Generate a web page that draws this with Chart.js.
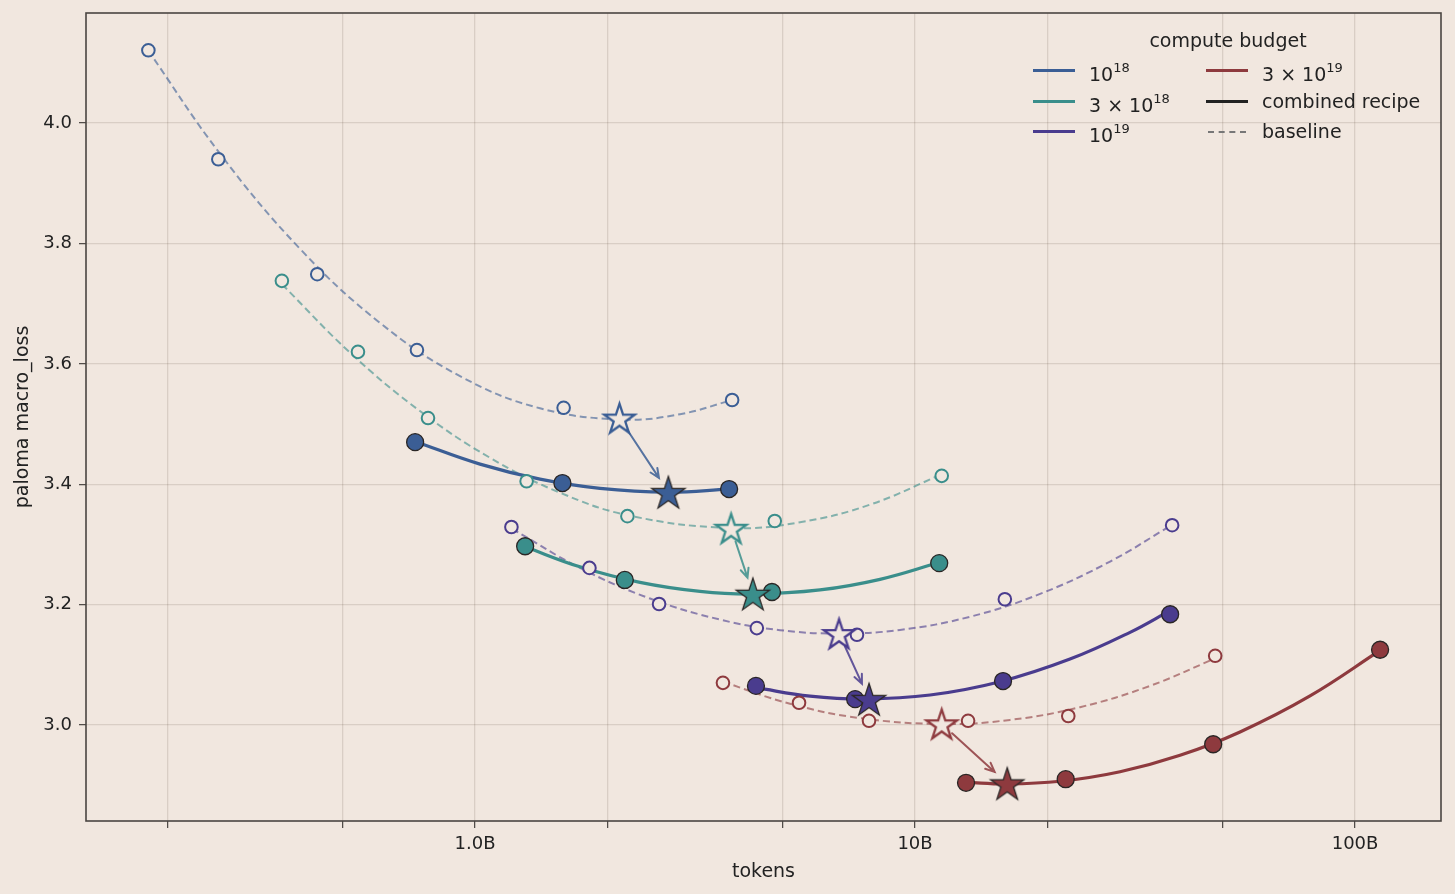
<!DOCTYPE html>
<html>
<head>
<meta charset="utf-8">
<script src="https://cdn.jsdelivr.net/npm/chart.js@4.4.1/dist/chart.umd.min.js"></script>
<style>
  html, body { margin: 0; padding: 0; background: #f1e7df; }
  #wrap { position: relative; width: 1455px; height: 894px; font-family: 'DejaVu Sans', sans-serif; color: #222; }
  #legend { position: absolute; left: 1026px; top: 26px; width: 410px; font-size: 19px; }
  #legend .ttl { position: absolute; left: 0; width: 404px; text-align: center; top: 2px; line-height: 24px; }
  #legend .row { position: absolute; height: 24px; line-height: 24px; white-space: nowrap; }
  #legend .hd { position: absolute; left: 0; top: 11px; width: 42px; height: 0; border-top: 3px solid; }
  #legend .lb { position: absolute; left: 56px; top: 0; }
  #legend sup { font-size: 13px; position: relative; top: -2px; }
</style>
</head>
<body>
<div id="wrap">
  <canvas id="lossChart" width="1455" height="894"></canvas>
  <div id="legend"></div>
</div>
<script>
// ───────────────────────────────────────────────
// tokens (billions) vs paloma macro_loss, per compute budget
// ───────────────────────────────────────────────

const budgets = ['1e18', '3e18', '1e19', '3e19'];
const budgetLabels = ['10<sup>18</sup>', '3 × 10<sup>18</sup>', '10<sup>19</sup>', '3 × 10<sup>19</sup>'];
const budgetColors = ['#3b5e95', '#3a8e8b', '#4a3c8e', '#8e3a3e'];

// baseline runs (hollow circles)
const baseTokens1e18 = [0.181, 0.261, 0.438, 0.738, 1.59, 3.84];
const baseLoss1e18   = [4.121, 3.940, 3.749, 3.623, 3.527, 3.540];
const baseTokens3e18 = [0.364, 0.542, 0.782, 1.31, 2.22, 4.80, 11.5];
const baseLoss3e18   = [3.738, 3.620, 3.510, 3.405, 3.347, 3.339, 3.414];
const baseTokens1e19 = [1.21, 1.82, 2.62, 4.37, 7.38, 16.0, 38.4];
const baseLoss1e19   = [3.329, 3.261, 3.201, 3.161, 3.150, 3.209, 3.332];
const baseTokens3e19 = [3.66, 5.45, 7.86, 13.2, 22.3, 48.1];
const baseLoss3e19   = [3.070, 3.037, 3.007, 3.007, 3.015, 3.115];

// combined recipe runs (filled circles)
const combTokens1e18 = [0.731, 1.58, 3.78];
const combLoss1e18   = [3.470, 3.402, 3.392];
const combTokens3e18 = [1.30, 2.19, 4.73, 11.35];
const combLoss3e18   = [3.297, 3.241, 3.221, 3.269];
const combTokens1e19 = [4.35, 7.31, 15.85, 38.0];
const combLoss1e19   = [3.065, 3.043, 3.073, 3.184];
const combTokens3e19 = [13.06, 22.0, 47.6, 114];
const combLoss3e19   = [2.904, 2.910, 2.968, 3.125];

// fitted optimum per budget: [tokens, loss]
const baseOptimum = [[2.13, 3.510], [3.82, 3.327], [6.72, 3.152], [11.5, 3.002]];
const combOptimum = [[2.75, 3.387], [4.28, 3.218], [7.86, 3.043], [16.2, 2.903]];

// fit curves
const fitBaseTokens1e18 = [0.1806, 0.2633, 0.4002, 0.6083, 0.9245, 1.405, 2.170, 2.924, 3.838];
const fitBaseLoss1e18   = [4.1213, 3.9493, 3.7912, 3.6681, 3.5797, 3.5262, 3.5075, 3.5164, 3.5399];
const fitCombTokens1e18 = [0.7306, 1.0265, 1.405, 1.924, 2.745, 3.778];
const fitCombLoss1e18   = [3.4711, 3.4334, 3.4085, 3.3932, 3.3870, 3.3919];
const fitBaseTokens3e18 = [0.3641, 0.5197, 0.7499, 1.0816, 1.5603, 2.2504, 3.818, 5.478, 7.903, 11.52];
const fitBaseLoss3e18   = [3.7324, 3.6189, 3.5216, 3.4440, 3.3860, 3.3477, 3.3272, 3.3369, 3.3661, 3.4168];
const fitCombTokens3e18 = [1.299, 1.732, 2.371, 3.246, 4.283, 6.083, 8.326, 11.34];
const fitCombLoss3e18   = [3.2962, 3.2628, 3.2369, 3.2219, 3.2176, 3.2244, 3.2420, 3.2699];
const fitBaseTokens1e19 = [1.2137, 1.732, 2.4988, 3.6055, 4.934, 6.720, 9.246, 13.34, 19.24, 27.75, 38.38];
const fitBaseLoss1e19   = [3.3261, 3.2611, 3.2101, 3.1751, 3.1576, 3.1520, 3.1580, 3.1799, 3.2178, 3.2716, 3.3326];
const fitCombTokens1e19 = [4.350, 5.773, 7.698, 10.82, 15.60, 22.50, 30.81, 37.98];
const fitCombLoss1e19   = [3.0620, 3.0480, 3.0432, 3.0498, 3.0719, 3.1095, 3.1540, 3.1900];
const fitBaseTokens3e19 = [3.661, 5.199, 7.499, 11.52, 16.44, 23.71, 34.20, 48.07];
const fitBaseLoss3e19   = [3.0718, 3.0354, 3.0115, 3.0017, 3.0085, 3.0296, 3.0650, 3.1106];
const fitCombTokens3e19 = [13.06, 16.19, 21.36, 29.24, 40.03, 54.78, 79.01, 114.0];
const fitCombLoss3e19   = [2.9047, 2.9020, 2.9065, 2.9224, 2.9497, 2.9885, 3.0483, 3.1239];

// axes
const xTicks = [0.2, 0.5, 1, 2, 5, 10, 20, 50, 100];
const xTickLabels = { 1: '1.0B', 10: '10B', 100: '100B' };
const yTicks = [3.0, 3.2, 3.4, 3.6, 3.8, 4.0];

const BG = '#f1e7df';
const FONT = "'DejaVu Sans', sans-serif";

const baseTokens = [baseTokens1e18, baseTokens3e18, baseTokens1e19, baseTokens3e19];
const baseLoss = [baseLoss1e18, baseLoss3e18, baseLoss1e19, baseLoss3e19];
const combTokens = [combTokens1e18, combTokens3e18, combTokens1e19, combTokens3e19];
const combLoss = [combLoss1e18, combLoss3e18, combLoss1e19, combLoss3e19];
const fitBaseTokens = [fitBaseTokens1e18, fitBaseTokens3e18, fitBaseTokens1e19, fitBaseTokens3e19];
const fitBaseLoss = [fitBaseLoss1e18, fitBaseLoss3e18, fitBaseLoss1e19, fitBaseLoss3e19];
const fitCombTokens = [fitCombTokens1e18, fitCombTokens3e18, fitCombTokens1e19, fitCombTokens3e19];
const fitCombLoss = [fitCombLoss1e18, fitCombLoss3e18, fitCombLoss1e19, fitCombLoss3e19];

function toPoints(xs, ys) {
  return xs.map((x, i) => ({ x: x, y: ys[i] }));
}

function withAlpha(hex, a) {
  const n = parseInt(hex.slice(1), 16);
  return `rgba(${(n >> 16) & 255}, ${(n >> 8) & 255}, ${n & 255}, ${a})`;
}

// matplotlib-ish 5-point star as an image point style
function makeStar(r, fill, stroke, lw) {
  const size = Math.ceil(2 * r + lw * 2 + 4);
  const c = document.createElement('canvas');
  c.width = c.height = size;
  const g = c.getContext('2d');
  g.translate(size / 2, size / 2 + r * 0.1);
  g.beginPath();
  for (let i = 0; i < 10; i++) {
    const rad = i % 2 ? r * 0.382 : r;
    const a = -Math.PI / 2 + i * Math.PI / 5;
    const px = rad * Math.cos(a), py = rad * Math.sin(a);
    if (i === 0) g.moveTo(px, py); else g.lineTo(px, py);
  }
  g.closePath();
  g.fillStyle = fill;
  g.fill();
  g.lineJoin = 'miter';
  g.lineWidth = lw;
  g.strokeStyle = stroke;
  g.stroke();
  return c;
}

const datasets = [];
budgets.forEach((b, i) => {
  const col = budgetColors[i];
  datasets.push({
    label: b + ' optimum combined',
    data: [{ x: combOptimum[i][0], y: combOptimum[i][1] }],
    pointStyle: makeStar(17.5, col, '#2a2625', 1.3),
    pointRadius: 17,
    showLine: false,
    order: 0
  });
  datasets.push({
    label: b + ' optimum baseline',
    data: [{ x: baseOptimum[i][0], y: baseOptimum[i][1] }],
    pointStyle: makeStar(16, BG, col, 2.3),
    pointRadius: 16,
    showLine: false,
    order: 1
  });
  datasets.push({
    label: b + ' combined',
    data: toPoints(combTokens[i], combLoss[i]),
    pointRadius: 8.5,
    pointBackgroundColor: col,
    pointBorderColor: '#2a2625',
    pointBorderWidth: 1.3,
    showLine: false,
    order: 2
  });
  datasets.push({
    label: b + ' baseline',
    data: toPoints(baseTokens[i], baseLoss[i]),
    pointRadius: 6.3,
    pointBackgroundColor: BG,
    pointBorderColor: col,
    pointBorderWidth: 2,
    showLine: false,
    order: 3
  });
  datasets.push({
    label: b + ' combined fit',
    data: toPoints(fitCombTokens[i], fitCombLoss[i]),
    showLine: true,
    borderColor: col,
    borderWidth: 3.2,
    pointRadius: 0,
    tension: 0.4,
    order: 4
  });
  datasets.push({
    label: b + ' baseline fit',
    data: toPoints(fitBaseTokens[i], fitBaseLoss[i]),
    showLine: true,
    borderColor: withAlpha(col, 0.6),
    borderWidth: 2,
    borderDash: [7, 4],
    pointRadius: 0,
    tension: 0.4,
    order: 5
  });
});

const chartDecor = {
  id: 'chartDecor',
  beforeDraw(chart) {
    const g = chart.ctx;
    g.save();
    g.fillStyle = BG;
    g.fillRect(0, 0, chart.width, chart.height);
    g.restore();
  },
  afterDatasetsDraw(chart) {
    const g = chart.ctx;
    const xs = chart.scales.x, ys = chart.scales.y;
    // arrows from baseline optimum to combined optimum
    budgets.forEach((b, i) => {
      const x0 = xs.getPixelForValue(baseOptimum[i][0]), y0 = ys.getPixelForValue(baseOptimum[i][1]);
      const x1 = xs.getPixelForValue(combOptimum[i][0]), y1 = ys.getPixelForValue(combOptimum[i][1]);
      const len = Math.hypot(x1 - x0, y1 - y0);
      const ux = (x1 - x0) / len, uy = (y1 - y0) / len;
      const sx = x0 + ux * 14, sy = y0 + uy * 14;
      const ex = x1 - ux * 17, ey = y1 - uy * 17;
      g.save();
      g.strokeStyle = withAlpha(budgetColors[i], 0.85);
      g.lineWidth = 2;
      g.lineCap = 'round';
      g.beginPath();
      g.moveTo(sx, sy);
      g.lineTo(ex, ey);
      const a = Math.atan2(uy, ux);
      const h = 10, spread = 0.42;
      g.moveTo(ex - h * Math.cos(a - spread), ey - h * Math.sin(a - spread));
      g.lineTo(ex, ey);
      g.lineTo(ex - h * Math.cos(a + spread), ey - h * Math.sin(a + spread));
      g.stroke();
      g.restore();
    });
    // frame
    const ca = chart.chartArea;
    g.save();
    g.strokeStyle = '#4a4541';
    g.lineWidth = 1.6;
    g.strokeRect(ca.left, ca.top, ca.right - ca.left, ca.bottom - ca.top);
    g.restore();
  }
};

const gridStyle = {
  color: 'rgba(60, 40, 20, 0.13)',
  lineWidth: 1.3,
  tickLength: 7,
  tickColor: '#4a4541',
  tickWidth: 1.2
};

const ctx = document.getElementById('lossChart').getContext('2d');
new Chart(ctx, {
  type: 'scatter',
  data: { datasets: datasets },
  plugins: [chartDecor],
  options: {
    responsive: false,
    animation: false,
    devicePixelRatio: 1,
    layout: { autoPadding: false, padding: { top: 13, right: 14, left: 12, bottom: 11 } },
    plugins: {
      legend: { display: false },
      tooltip: { enabled: false }
    },
    scales: {
      x: {
        type: 'logarithmic',
        min: 0.1306,
        max: 156.8,
        afterBuildTicks: (scale) => { scale.ticks = xTicks.map(v => ({ value: v, major: v in xTickLabels })); },
        afterFit: (scale) => { scale.height = 62; scale.paddingLeft = 0; scale.paddingRight = 0; },
        grid: gridStyle,
        border: { display: false },
        ticks: {
          autoSkip: false,
          maxRotation: 0,
          padding: 6,
          color: '#222',
          font: { family: FONT, size: 18 },
          callback: (v) => xTickLabels[v] || ''
        },
        title: {
          display: true,
          text: 'tokens',
          color: '#222',
          font: { family: FONT, size: 19 },
          padding: { top: 0, bottom: 0 }
        }
      },
      y: {
        min: 2.8405,
        max: 4.183,
        afterBuildTicks: (scale) => { scale.ticks = yTicks.map(v => ({ value: v })); },
        afterFit: (scale) => { scale.width = 74; scale.paddingTop = 0; scale.paddingBottom = 0; },
        grid: gridStyle,
        border: { display: false },
        ticks: {
          padding: 7,
          color: '#222',
          font: { family: FONT, size: 18 },
          callback: (v) => v.toFixed(1)
        },
        title: {
          display: true,
          text: 'paloma macro_loss',
          color: '#222',
          font: { family: FONT, size: 19 },
          padding: { top: 0, bottom: 0 }
        }
      }
    }
  }
});

// two-column legend, column-major like the reference
const legendItems = [
  { label: budgetLabels[0], color: budgetColors[0] },
  { label: budgetLabels[1], color: budgetColors[1] },
  { label: budgetLabels[2], color: budgetColors[2] },
  { label: budgetLabels[3], color: budgetColors[3] },
  { label: 'combined recipe', color: '#222' },
  { label: 'baseline', color: '#777', dashed: true }
];
const legend = document.getElementById('legend');
legend.innerHTML = '<div class="ttl">compute budget</div>';
legendItems.forEach((it, k) => {
  const col = Math.floor(k / 3), row = k % 3;
  const el = document.createElement('div');
  el.className = 'row';
  el.style.left = (7 + col * 173) + 'px';
  el.style.top = (32 + row * 30.5) + 'px';
  const hd = it.dashed
    ? `<div class="hd" style="border-top:2px dashed ${it.color};width:38px;left:2px;top:12px"></div>`
    : `<div class="hd" style="border-top-color:${it.color}"></div>`;
  el.innerHTML = hd + `<div class="lb">${it.label}</div>`;
  legend.appendChild(el);
});
</script>
</body>
</html>
